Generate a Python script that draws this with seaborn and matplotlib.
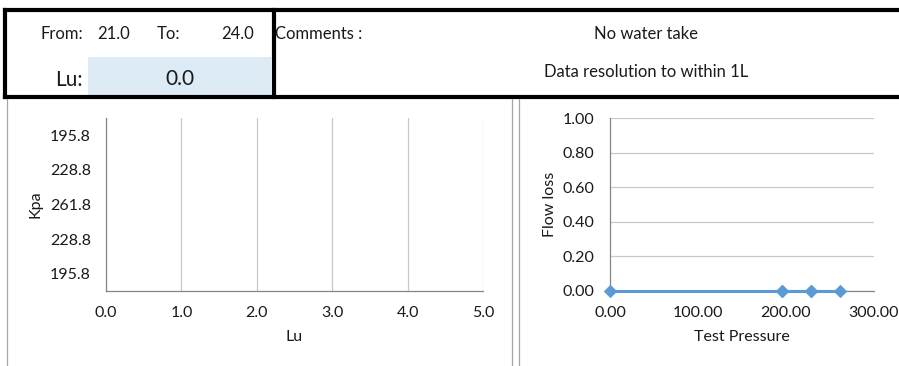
import matplotlib
matplotlib.use("Agg")
import matplotlib.pyplot as plt
import seaborn as sns
import pandas as pd
from matplotlib.lines import Line2D
from matplotlib.patches import Rectangle

# ---- data ----
from_depth = "21.0"
to_depth = "24.0"
lu_value = "0.0"
comment_lines = ["No water take", "Data resolution to within 1L"]

kpa_labels = ["195.8", "228.8", "261.8", "228.8", "195.8"]
lu_values = [0.0, 0.0, 0.0, 0.0, 0.0]
lu_ticks = [0, 1, 2, 3, 4, 5]

test_pressure = [0.0, 195.8, 228.8, 261.8, 228.8, 195.8]
flow_loss = [0.0, 0.0, 0.0, 0.0, 0.0, 0.0]
fl_yticks = [0.0, 0.2, 0.4, 0.6, 0.8, 1.0]
tp_xticks = [0, 100, 200, 300]

sns.set_theme(style="white")
plt.rcParams['font.family'] = ['Lato', 'DejaVu Sans']

W, H = 899, 366
fig = plt.figure(figsize=(W / 100, H / 100), dpi=100)
fig.patch.set_facecolor("white")

def fx(x):
    return x / W

def fy(y):
    return 1 - y / H

TXT = "#1a1a1a"
AX = "#868686"
GRID = "#c8c8c8"
FS_HEAD = 12
FS_CHART = 11.5

# ---- header box ----
fig.patches.append(Rectangle((fx(88), fy(96)), fx(271) - fx(88), fy(57) - fy(96),
                             transform=fig.transFigure, facecolor="#DDEBF7",
                             edgecolor="none", zorder=0))
lw_thick = 3.0
for (x0, y0, x1, y1) in [(5, 10, 899, 10), (5, 97, 899, 97), (5, 10, 5, 97), (274, 10, 274, 97)]:
    fig.add_artist(Line2D([fx(x0), fx(x1)], [fy(y0), fy(y1)], transform=fig.transFigure,
                          color="black", lw=lw_thick, solid_capstyle="projecting"))

fig.text(fx(41), fy(34), "From:", fontsize=FS_HEAD, color=TXT, va="center", ha="left")
fig.text(fx(97), fy(34), from_depth, fontsize=FS_HEAD, color=TXT, va="center", ha="left")
fig.text(fx(157), fy(34), "To:", fontsize=FS_HEAD, color=TXT, va="center", ha="left")
fig.text(fx(254), fy(34), to_depth, fontsize=FS_HEAD, color=TXT, va="center", ha="right")
fig.text(fx(83), fy(80), "Lu:", fontsize=15, color=TXT, va="center", ha="right")
fig.text(fx(180), fy(79), lu_value, fontsize=15, color=TXT, va="center", ha="center")
fig.text(fx(275), fy(34), "Comments :", fontsize=FS_HEAD, color=TXT, va="center", ha="left")
fig.text(fx(646), fy(34), comment_lines[0], fontsize=FS_HEAD, color=TXT, va="center", ha="center")
fig.text(fx(646), fy(72), comment_lines[1], fontsize=FS_HEAD, color=TXT, va="center", ha="center")

# ---- chart frames ----
for x in [7, 512, 519]:
    fig.add_artist(Line2D([fx(x), fx(x)], [fy(99), fy(366)], transform=fig.transFigure,
                          color="#a6a6a6", lw=0.9))

# ---- left chart (horizontal bars, Lu vs Kpa) ----
axL = fig.add_axes([fx(106), fy(291), fx(483) - fx(106), fy(118) - fy(291)])
dfL = pd.DataFrame({"lu": lu_values, "cat": [str(i) for i in range(len(kpa_labels))]})
sns.barplot(data=dfL, x="lu", y="cat", orient="h", color="#5B9BD5", ax=axL)
axL.set_xlim(0, 5)
axL.set_ylim(len(kpa_labels) - 0.5, -0.5)
axL.set_xticks(lu_ticks)
axL.set_xticklabels([f"{v:.1f}" for v in lu_ticks])
axL.set_yticks([i - 0.5 for i in range(len(kpa_labels) + 1)])
axL.set_yticklabels([""] * (len(kpa_labels) + 1))
axL.set_yticks(list(range(len(kpa_labels))), minor=True)
axL.set_yticklabels(kpa_labels, minor=True)
axL.tick_params(axis="y", which="major", length=6, width=0.9, color=AX, direction="out")
axL.tick_params(axis="y", which="minor", length=0, pad=11, labelsize=FS_CHART, labelcolor=TXT)
axL.tick_params(axis="x", which="major", length=2, width=0.9, color=AX, direction="out",
                pad=9, labelsize=FS_CHART, labelcolor=TXT)
axL.xaxis.grid(True, color=GRID, lw=0.9)
axL.yaxis.grid(False)
for s in ["top", "right"]:
    axL.spines[s].set_visible(False)
for s in ["left", "bottom"]:
    axL.spines[s].set_color(AX)
    axL.spines[s].set_linewidth(0.9)
axL.set_xlabel("Lu", fontsize=FS_CHART, color=TXT, labelpad=7)
axL.set_ylabel("Kpa", fontsize=FS_CHART, color=TXT, labelpad=5)
axL.set_facecolor("none")

# ---- right chart (flow loss vs test pressure) ----
axR = fig.add_axes([fx(610), fy(291), fx(874) - fx(610), fy(118) - fy(291)])
dfR = pd.DataFrame({"p": test_pressure, "f": flow_loss})
sns.lineplot(data=dfR, x="p", y="f", estimator=None, sort=False, color="#5B9BD5",
             lw=2.2, marker="D", markersize=6, markeredgecolor="#5B9BD5", ax=axR,
             clip_on=False, zorder=5)
axR.set_xlim(0, 300)
axR.set_ylim(0, 1.0)
axR.set_xticks(tp_xticks)
axR.set_xticklabels([f"{v:.2f}" for v in tp_xticks])
axR.set_yticks(fl_yticks)
axR.set_yticklabels([f"{v:.2f}" for v in fl_yticks])
axR.tick_params(axis="y", length=0, pad=11, labelsize=FS_CHART, labelcolor=TXT)
axR.tick_params(axis="x", length=2, width=0.9, color=AX, direction="out", pad=9,
                labelsize=FS_CHART, labelcolor=TXT)
axR.yaxis.grid(True, color=GRID, lw=0.9)
axR.xaxis.grid(False)
for s in ["top", "right"]:
    axR.spines[s].set_visible(False)
for s in ["left", "bottom"]:
    axR.spines[s].set_color(AX)
    axR.spines[s].set_linewidth(0.9)
axR.set_xlabel("Test Pressure", fontsize=FS_CHART, color=TXT, labelpad=7)
axR.set_ylabel("Flow loss", fontsize=FS_CHART, color=TXT, labelpad=4)
axR.set_facecolor("none")

fig.savefig("out.png", dpi=100, facecolor="white")
